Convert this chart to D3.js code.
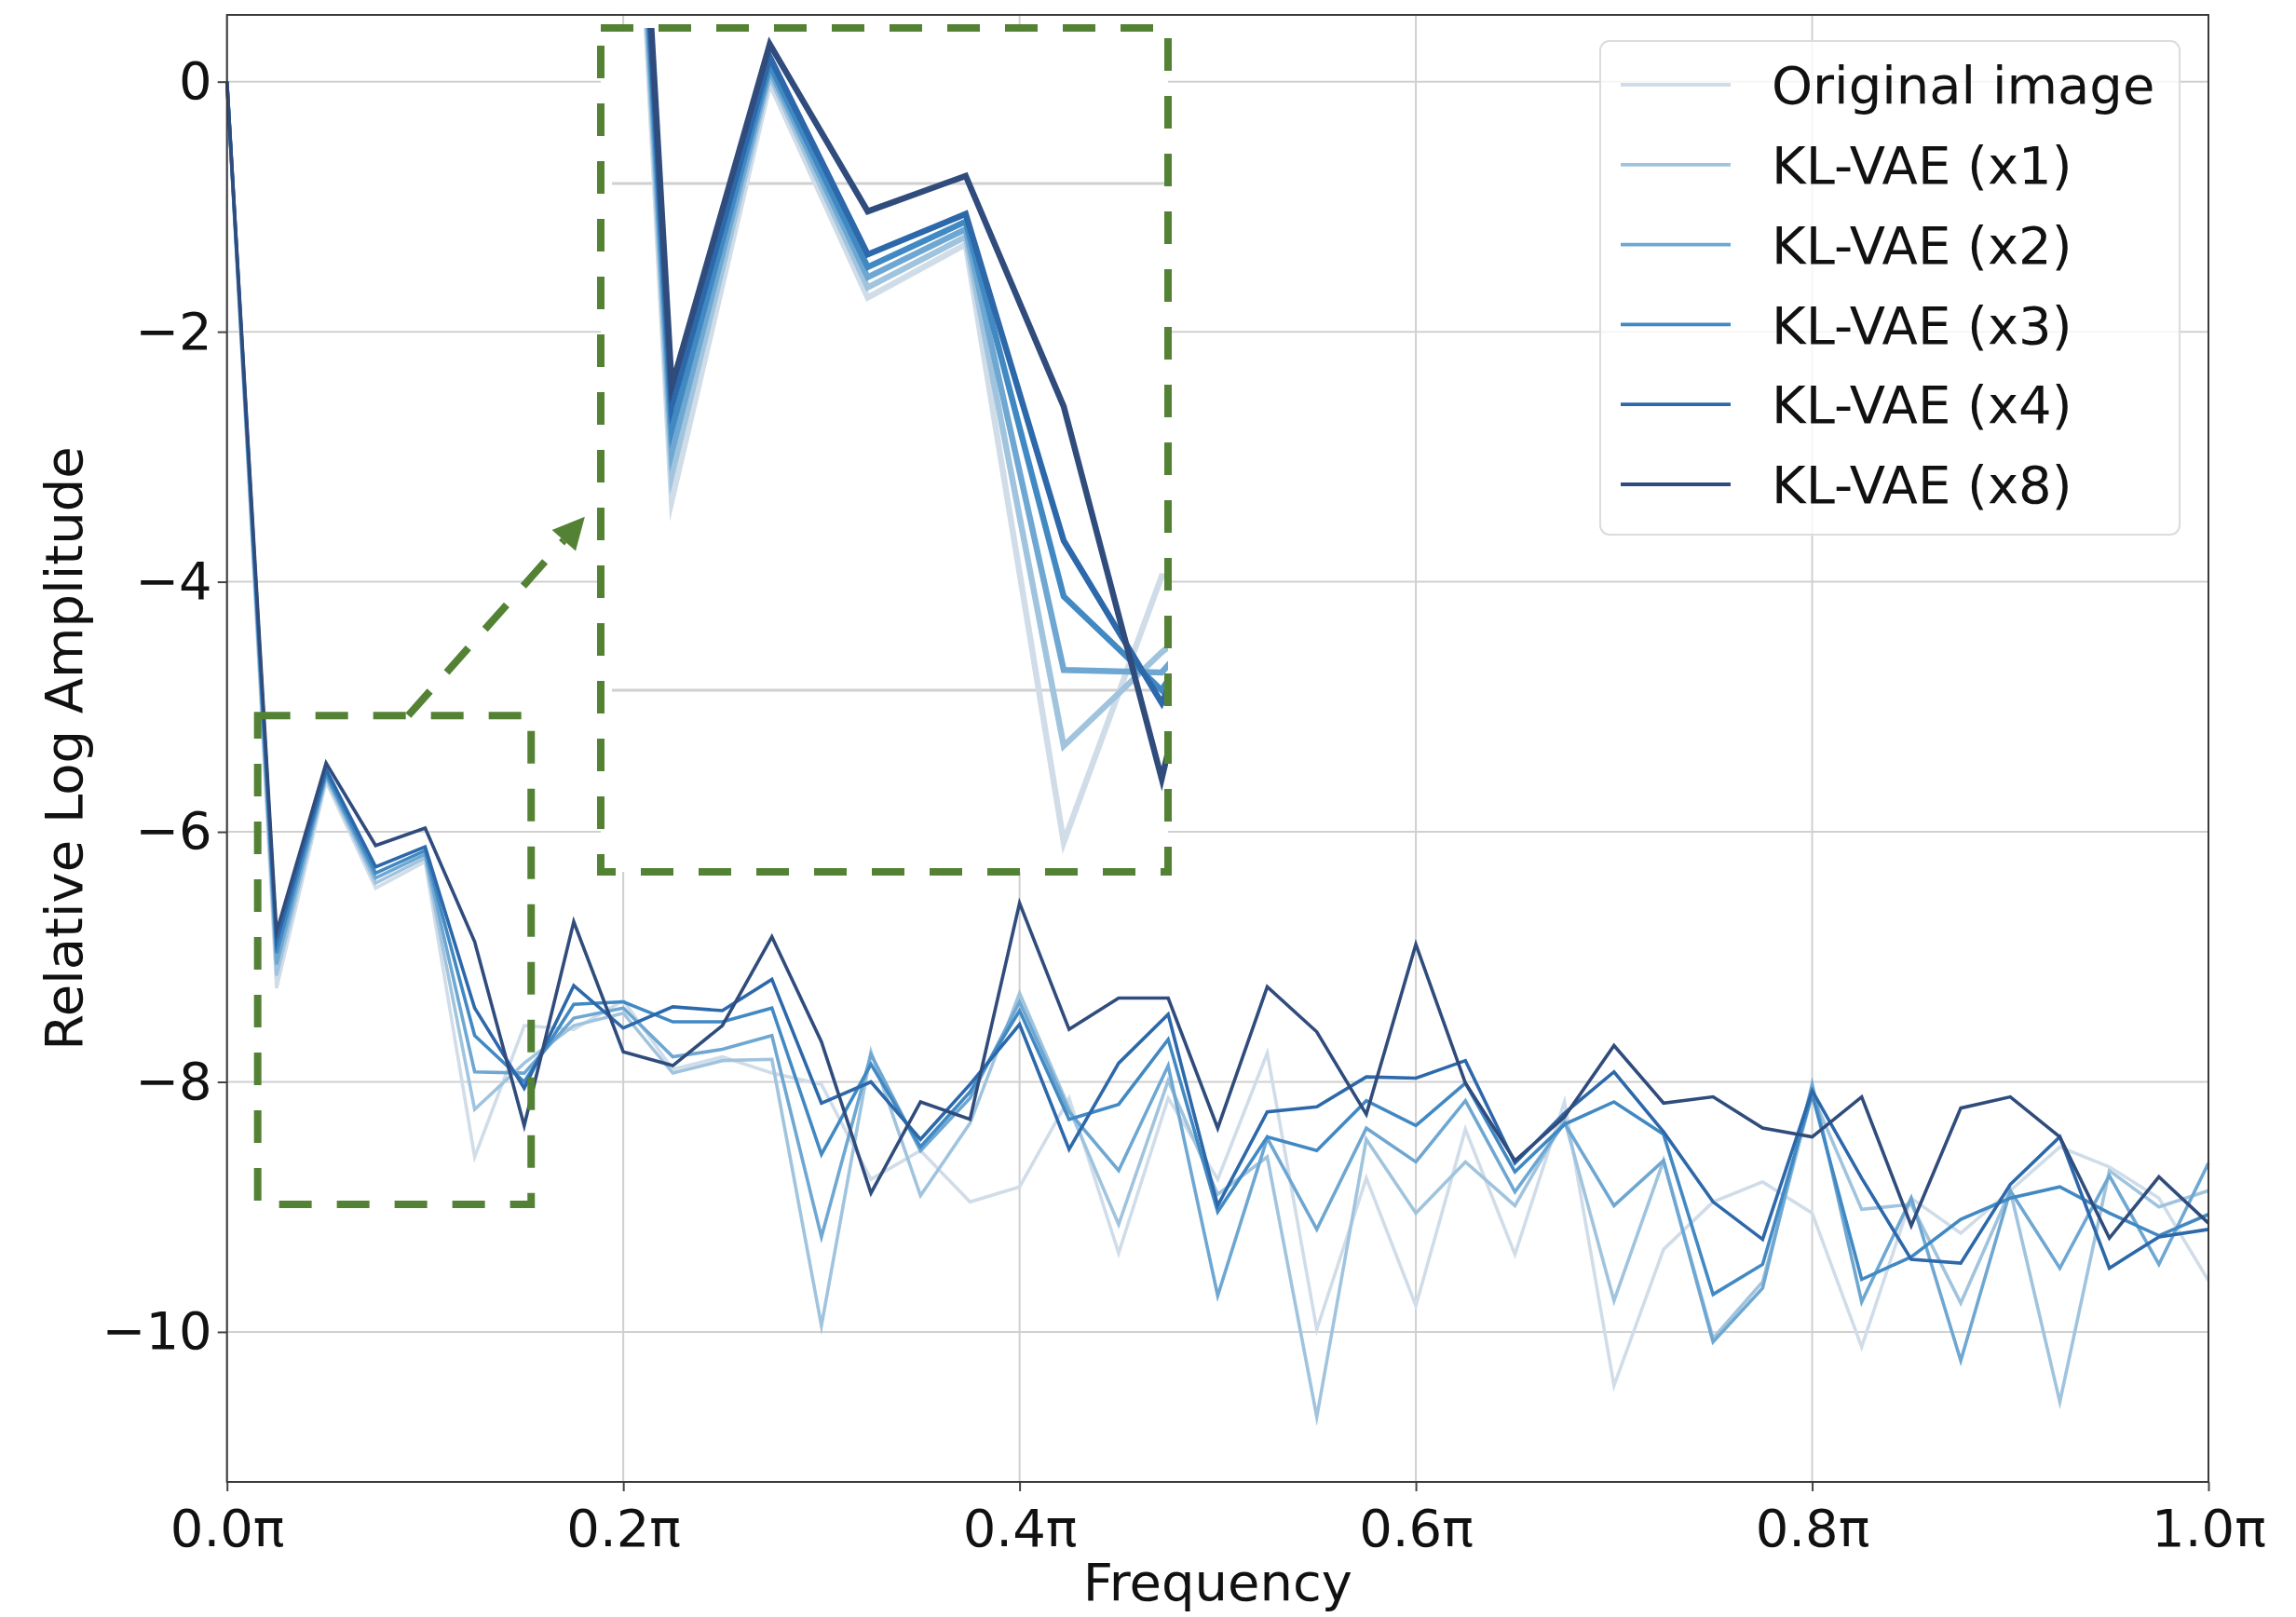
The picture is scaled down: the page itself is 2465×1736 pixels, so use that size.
<!DOCTYPE html>
<html><head><meta charset="utf-8">
<script src="https://cdn.jsdelivr.net/npm/d3@7"></script>
<style>
body{margin:0;background:#fff}
svg{display:block}
text{font-family:"DejaVu Sans",sans-serif;fill:#111}
</style>
</head><body>
<svg id="chart" width="2465" height="1736"></svg>
<script>
// ---------------- data ----------------
const freqs = [0,0.025,0.05,0.075,0.1,0.125,0.15,0.175,0.2,0.225,0.25,0.275,0.3,0.325,0.35,0.375,0.4,0.425,0.45,0.475,0.5,0.525,0.55,0.575,0.6,0.625,0.65,0.675,0.7,0.725,0.75,0.775,0.8,0.825,0.85,0.875,0.9,0.925,0.95,0.975,1.0];
const seriesNames = ["Original image","KL-VAE (x1)","KL-VAE (x2)","KL-VAE (x3)","KL-VAE (x4)","KL-VAE (x8)"];
const original = [0,-7.25,-5.60,-6.45,-6.24,-8.60,-7.55,-7.58,-7.35,-7.90,-7.80,-7.93,-8.02,-8.78,-8.55,-8.96,-8.84,-8.13,-9.37,-8.13,-8.78,-7.77,-9.98,-8.77,-9.79,-8.38,-9.38,-8.16,-10.43,-9.34,-8.96,-8.80,-9.05,-10.12,-8.93,-9.21,-8.87,-8.52,-8.68,-8.93,-9.59];
const klvaeX1 = [0,-7.15,-5.57,-6.41,-6.21,-8.22,-7.85,-7.55,-7.45,-7.93,-7.83,-7.82,-9.95,-7.76,-8.91,-8.33,-7.29,-8.21,-9.14,-7.99,-8.90,-8.60,-10.68,-8.46,-9.05,-8.64,-8.99,-8.30,-9.75,-8.63,-10.05,-9.60,-8.10,-9.02,-8.98,-9.77,-8.87,-10.56,-8.71,-9.00,-8.87];
const klvaeX2 = [0,-7.06,-5.55,-6.37,-6.18,-7.92,-7.93,-7.49,-7.41,-7.80,-7.74,-7.63,-9.24,-7.78,-8.55,-8.13,-7.36,-8.24,-8.71,-7.87,-9.71,-8.45,-9.18,-8.37,-8.64,-8.15,-8.88,-8.33,-8.99,-8.63,-10.08,-9.65,-8.02,-9.76,-8.93,-10.23,-8.87,-9.49,-8.75,-9.46,-8.65];
const klvaeX3 = [0,-6.97,-5.53,-6.33,-6.15,-7.63,-8.00,-7.38,-7.36,-7.52,-7.52,-7.41,-8.58,-7.86,-8.52,-8.08,-7.43,-8.30,-8.18,-7.66,-9.04,-8.44,-8.55,-8.15,-8.35,-8.01,-8.72,-8.34,-8.16,-8.42,-9.70,-9.46,-8.10,-9.58,-9.40,-9.10,-8.93,-8.84,-9.05,-9.23,-9.06];
const klvaeX4 = [0,-6.88,-5.50,-6.28,-6.12,-7.41,-8.05,-7.23,-7.57,-7.40,-7.43,-7.18,-8.17,-8.00,-8.46,-8.02,-7.54,-8.54,-7.85,-7.46,-8.99,-8.24,-8.20,-7.96,-7.97,-7.83,-8.65,-8.25,-7.92,-8.40,-8.96,-9.26,-8.07,-8.77,-9.42,-9.45,-8.82,-8.44,-9.49,-9.24,-9.18];
const klvaeX8 = [0,-6.80,-5.45,-6.11,-5.97,-6.88,-8.35,-6.72,-7.76,-7.87,-7.55,-6.84,-7.68,-8.89,-8.16,-8.30,-6.57,-7.58,-7.33,-7.33,-8.37,-7.24,-7.60,-8.26,-6.90,-8.01,-8.63,-8.28,-7.71,-8.17,-8.12,-8.37,-8.44,-8.12,-9.15,-8.21,-8.12,-8.44,-9.25,-8.76,-9.13];
const seriesValues = [original, klvaeX1, klvaeX2, klvaeX3, klvaeX4, klvaeX8];
const xTickValues = [0,0.2,0.4,0.6,0.8,1.0];
const xTickLabels = ["0.0π","0.2π","0.4π","0.6π","0.8π","1.0π"];
const yTickValues = [0,-2,-4,-6,-8,-10];
const yTickLabels = ["0","−2","−4","−6","−8","−10"];
const xLabel = "Frequency";
const yLabel = "Relative Log Amplitude";

// ---------------- styles ----------------
const seriesColors = ["#d0dde9","#a0c4de","#6ea7d2","#4189c3","#2c68aa","#304c7c"];
const green = "#548235";
const FS = 56;

const svg = d3.select("#chart");
const plot = {left:243.7, right:2371, top:16, bottom:1591};
const x = d3.scaleLinear().domain([0,1]).range([plot.left, plot.right]);
const y = d3.scaleLinear().domain([0.534,-11.2]).range([plot.top, plot.bottom]);

// grid
const grid = svg.append("g");
grid.selectAll("line.gx").data(xTickValues).join("line")
  .attr("x1",d=>x(d)).attr("x2",d=>x(d)).attr("y1",plot.top).attr("y2",plot.bottom)
  .attr("stroke","#d0d0d0").attr("stroke-width",2);
grid.selectAll("line.gy").data(yTickValues).join("line")
  .attr("y1",d=>y(d)).attr("y2",d=>y(d)).attr("x1",plot.left).attr("x2",plot.right)
  .attr("stroke","#d0d0d0").attr("stroke-width",2);

// series lines
const line = d3.line().x((d,i)=>x(freqs[i])).y(d=>y(d));
const lg = svg.append("g");
seriesValues.forEach((vals,k)=>{
  lg.append("path").attr("d",line(vals)).attr("fill","none")
    .attr("stroke",seriesColors[k]).attr("stroke-width",3.6)
    .attr("stroke-linejoin","miter").attr("stroke-miterlimit",6);
});

// axes
const xAxis = d3.axisBottom(x).tickValues(xTickValues).tickFormat((d,i)=>xTickLabels[i]).tickSize(10).tickPadding(19);
const gx = svg.append("g").attr("transform",`translate(0,${plot.bottom})`).call(xAxis);
const yAxis = d3.axisLeft(y).tickValues(yTickValues).tickFormat((d,i)=>yTickLabels[i]).tickSize(10).tickPadding(6);
const gy = svg.append("g").attr("transform",`translate(${plot.left},0)`).call(yAxis);
[gx,gy].forEach(g=>{
  g.select(".domain").remove();
  g.selectAll(".tick line").attr("stroke","#444").attr("stroke-width",2);
  g.selectAll(".tick text").attr("font-size",FS).attr("fill","#111").style("font-family","DejaVu Sans");
});

// spines
svg.append("rect").attr("x",plot.left).attr("y",plot.top)
  .attr("width",plot.right-plot.left).attr("height",plot.bottom-plot.top)
  .attr("fill","none").attr("stroke","#3a3a3a").attr("stroke-width",2);

// axis labels
svg.append("text").attr("x",(plot.left+plot.right)/2).attr("y",1718)
  .attr("text-anchor","middle").attr("font-size",FS).text(xLabel);
svg.append("text").attr("transform",`translate(88,${(plot.top+plot.bottom)/2}) rotate(-90)`)
  .attr("text-anchor","middle").attr("font-size",FS).text(yLabel);

// legend
const leg = svg.append("g");
leg.append("rect").attr("x",1718).attr("y",44).attr("width",622).attr("height",530)
  .attr("rx",10).attr("fill","#fff").attr("fill-opacity",0.8)
  .attr("stroke","#dcdcdc").attr("stroke-width",2);
seriesNames.forEach((n,k)=>{
  const yy = 91 + k*85.8;
  leg.append("line").attr("x1",1740).attr("x2",1858).attr("y1",yy).attr("y2",yy)
    .attr("stroke",seriesColors[k]).attr("stroke-width",3.8);
  leg.append("text").attr("x",1902).attr("y",yy).attr("dy","0.36em")
    .attr("font-size",FS).text(n);
});

// zoom box on main chart
const box = {x0:0.0155, x1:0.1535, y0:-5.07, y1:-8.98};
svg.append("rect").attr("x",x(box.x0)).attr("y",y(box.y0))
  .attr("width",x(box.x1)-x(box.x0)).attr("height",y(box.y1)-y(box.y0))
  .attr("fill","none").attr("stroke",green).attr("stroke-width",8)
  .attr("stroke-dasharray","35,27");

// arrow
const ax0 = x(0.0915), ay0 = y(box.y0);
const ax1 = x(0.1806), ay1 = y(-3.48);
const dx = ax1-ax0, dy = ay1-ay0, len = Math.hypot(dx,dy);
const ux = dx/len, uy = dy/len;
const headL = 34, headW = 17;
const bx = ax1-ux*headL, by = ay1-uy*headL;
svg.append("line").attr("x1",ax0).attr("y1",ay0).attr("x2",bx).attr("y2",by)
  .attr("stroke",green).attr("stroke-width",8).attr("stroke-dasharray","35,27");
svg.append("polygon").attr("fill",green)
  .attr("points",[[ax1,ay1],[bx-uy*headW,by+ux*headW],[bx+uy*headW,by-ux*headW]].map(p=>p.join(",")).join(" "));

// inset (magnified view)
const inset = {left:645, right:1254, top:30, bottom:936};
const xi = d3.scaleLinear().domain([0,0.15]).range([616,1247.2]);
const yi = d3.scaleLinear().domain([-6,-8]).range([197,741]);
const defs = svg.append("defs");
defs.append("clipPath").attr("id","insetClip").append("rect")
  .attr("x",inset.left).attr("y",inset.top).attr("width",inset.right-inset.left).attr("height",inset.bottom-inset.top);
const ig = svg.append("g");
ig.append("rect").attr("x",inset.left).attr("y",inset.top).attr("width",inset.right-inset.left)
  .attr("height",inset.bottom-inset.top).attr("fill","#fff");
const igc = ig.append("g").attr("clip-path","url(#insetClip)");
igc.selectAll("line.ig").data([-6,-8]).join("line")
  .attr("x1",inset.left+12).attr("x2",inset.right).attr("y1",d=>yi(d)).attr("y2",d=>yi(d))
  .attr("stroke","#d0d0d0").attr("stroke-width",3);
const lineI = d3.line().x((d,i)=>xi(freqs[i])).y(d=>yi(d));
seriesValues.forEach((vals,k)=>{
  igc.append("path").attr("d",lineI(vals.slice(0,8))).attr("fill","none")
    .attr("stroke",seriesColors[k]).attr("stroke-width",6.5)
    .attr("stroke-linejoin","miter").attr("stroke-miterlimit",8);
});
ig.append("rect").attr("x",inset.left).attr("y",inset.top).attr("width",inset.right-inset.left)
  .attr("height",inset.bottom-inset.top).attr("fill","none")
  .attr("stroke",green).attr("stroke-width",8).attr("stroke-dasharray","35,27");
</script>
</body></html>
